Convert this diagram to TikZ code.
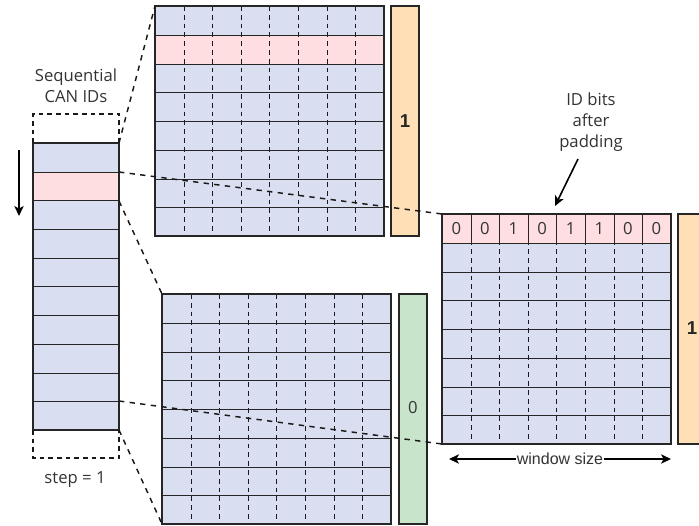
\documentclass[tikz,border=0pt]{standalone}
\usepackage{fontspec}
\setmainfont{Open Sans}
\newfontfamily\arialfont{Liberation Sans}
\usetikzlibrary{arrows}
\usetikzlibrary{arrows.meta}
\usetikzlibrary{calc}

\definecolor{idblue}{RGB}{217,223,240}
\definecolor{idpink}{RGB}{255,222,225}
\definecolor{idorange}{RGB}{255,224,182}
\definecolor{idgreen}{RGB}{200,229,204}

\tikzset{
  cell/.style={draw=black!85,line width=1.2pt},
  cellsep/.style={draw=black!90,line width=1.2pt,dash pattern=on 3.6pt off 3pt},
  padbox/.style={draw=black!90,line width=1.2pt,dash pattern=on 3.5pt off 3pt},
  link/.style={draw=black!90,line width=1.1pt,dash pattern=on 4pt off 4pt},
  lbl/.style={text=black!80,font=\fontsize{12.5}{15.5}\selectfont,align=center},
  bitlbl/.style={text=black!85,font=\arialfont\bfseries\fontsize{14}{16}\selectfont},
  tip/.tip={Stealth[length=7.5pt,width=7pt,inset=2pt]},
}

% one window of 8 IDs, 8 bits each: x, y, highlighted row (-1 for none)
\newcommand{\idwindow}[3]{%
  \fill[idblue] (#1,#2) rectangle ++(229,230);
  \ifnum#3>-1 \fill[idpink] (#1,{#2+round(28.75*#3)}) rectangle (#1+229,{#2+round(28.75*(#3+1))});\fi
  \foreach \c in {1,...,7}
    \draw[cellsep] ({#1+round(28.6*\c)+0.5},#2) -- ++(0,230);
  \foreach \r in {1,...,7}
    \draw[cell] (#1,{#2+round(28.75*\r)+0.5}) -- ++(229,0);
  \draw[cell] (#1,#2) rectangle ++(229,230);
}

\begin{document}
\begin{tikzpicture}[x=0.75pt,y=-0.75pt]
\useasboundingbox (0,0) rectangle (699,525);
\clip (0,0) rectangle (699,525);

%% sequential CAN IDs
\fill[idblue] (33,143) rectangle (119,430);
\fill[idpink] (33,172) rectangle (119,201);
\foreach \r in {1,...,9}
  \draw[cell] (33,{143+round(28.7*\r)+0.5}) -- ++(86,0);
\draw[cell] (33,143) rectangle (119,430);
\draw[padbox] (33,143) -- (33,114) -- (119,114) -- (119,143);
\draw[padbox] (33,430) -- (33,458) -- (119,458) -- (119,430);
\node[lbl] (seqlbl) at (76,86) {Sequential\\CAN IDs};
\node[lbl] (steplbl) at (75,480) {step = 1};
\coordinate (stepa) at (19,150);
\coordinate (stepb) at (19,216);
\draw[line width=1.2pt,-tip] (stepa) -- (stepb);

\coordinate (ida) at (119,143);
\coordinate (idb) at (119,172);
\coordinate (idc) at (119,201);
\coordinate (idi) at (119,401);
\coordinate (idj) at (119,430);

%% first window, label 1
\idwindow{155}{6}{1}
\filldraw[cell,fill=idorange] (391,6) rectangle (419,236);
\node[bitlbl] (toplbl) at (405,121) {1};
\coordinate (topnw) at (155,6);

%% second window, label 0
\idwindow{162}{294}{-1}
\filldraw[cell,fill=idgreen] (399,294) rectangle (427,524);
\node[lbl] (lowlbl) at (413,408) {0};
\coordinate (lownw) at (162,294);
\coordinate (lowsw) at (162,524);

%% padded window, label 1
\idwindow{442}{214}{0}
\foreach \c in {1,...,7}
  \draw[cell] ({442+round(28.6*\c)+0.5},214) -- ++(0,29);
\foreach \b [count=\i from 0] in {0,0,1,0,1,1,0,0}
  \node[lbl] (bit\i) at ({456.3+28.6*\i},228.5) {\b};
\filldraw[cell,fill=idorange] (678,214) rectangle (708,444);
\node[bitlbl] (padlbl) at (692,328) {1};
\coordinate (padnw) at (442,214);
\coordinate (padsw) at (442,444);

\node[lbl] (bitslbl) at (591,122) {ID bits\\after\\padding};
\coordinate (bitsa) at (578,159);
\coordinate (bitsb) at (555,206);
\draw[line width=1.2pt,-tip] (bitsa) -- (bitsb);

\coordinate (wina) at (449,459);
\coordinate (winb) at (671,459);
\draw[line width=1.2pt,tip-tip] (wina) -- node[fill=white,inner sep=0.5pt,text=black!80,font=\arialfont\fontsize{12}{14}\selectfont] (winlbl) {window size} (winb);

%% links from the IDs to the windows
\draw[link] (ida) -- (topnw);
\draw[link] (idb) -- (padnw);
\draw[link] (idc) -- (lownw);
\draw[link] (idi) -- (padsw);
\draw[link] (idj) -- (lowsw);
\end{tikzpicture}
\end{document}
